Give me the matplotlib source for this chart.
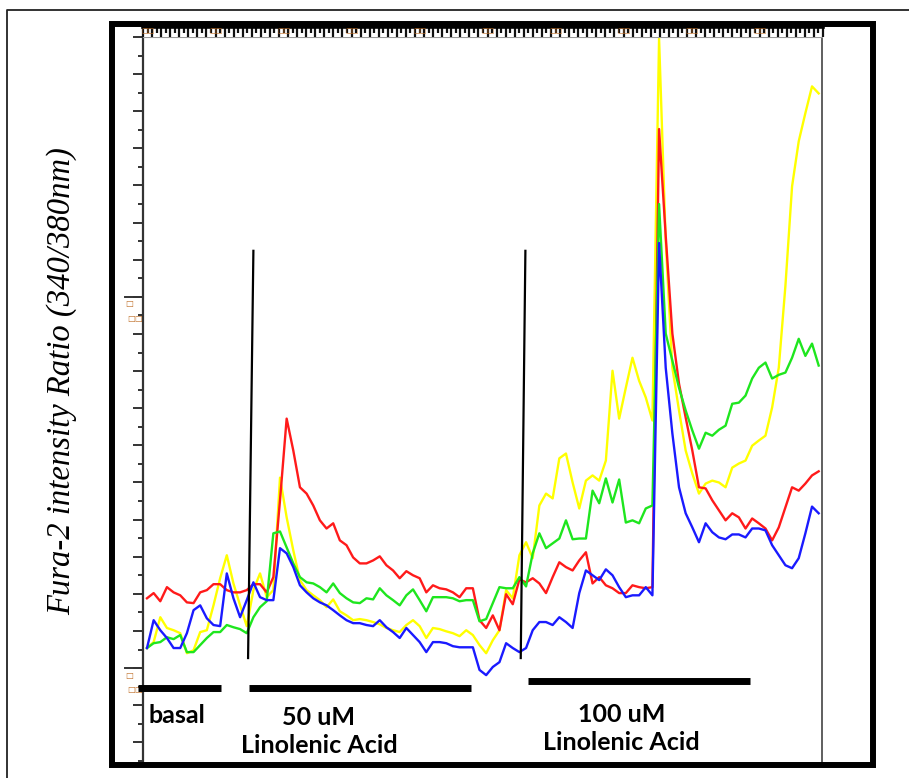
import numpy as np
import matplotlib.pyplot as plt
from matplotlib.patches import Rectangle
from matplotlib.lines import Line2D

# frame number of the imaging run
frame = np.arange(102)

# Fura-2 340/380 ratio, one list per cell
red = [1.188, 1.202, 1.180, 1.218, 1.204, 1.196, 1.177, 1.175, 1.204, 1.210,
       1.226, 1.226, 1.210, 1.204, 1.204, 1.210, 1.226, 1.226, 1.204, 1.245,
       1.452, 1.672, 1.586, 1.487, 1.470, 1.438, 1.398, 1.376, 1.390, 1.344,
       1.331, 1.298, 1.282, 1.282, 1.290, 1.301, 1.277, 1.263, 1.242, 1.261,
       1.250, 1.242, 1.204, 1.223, 1.215, 1.212, 1.204, 1.191, 1.215, 1.215,
       1.129, 1.108, 1.142, 1.102, 1.199, 1.172, 1.239, 1.231, 1.242, 1.228,
       1.202, 1.245, 1.285, 1.272, 1.263, 1.290, 1.312, 1.228, 1.245, 1.223,
       1.215, 1.202, 1.202, 1.223, 1.218, 1.215, 1.218, 2.452, 2.164, 1.901,
       1.766, 1.675, 1.586, 1.487, 1.484, 1.452, 1.425, 1.398, 1.417, 1.406,
       1.376, 1.403, 1.390, 1.376, 1.344, 1.379, 1.433, 1.487, 1.478, 1.497,
       1.519, 1.530]

green = [1.054, 1.067, 1.070, 1.083, 1.078, 1.089, 1.043, 1.043, 1.062, 1.081,
         1.097, 1.097, 1.116, 1.110, 1.105, 1.094, 1.137, 1.164, 1.180, 1.363,
         1.368, 1.325, 1.282, 1.245, 1.231, 1.228, 1.218, 1.204, 1.228, 1.202,
         1.188, 1.177, 1.175, 1.188, 1.185, 1.215, 1.196, 1.183, 1.169, 1.196,
         1.212, 1.183, 1.153, 1.191, 1.191, 1.191, 1.188, 1.180, 1.183, 1.183,
         1.126, 1.132, 1.175, 1.218, 1.215, 1.215, 1.245, 1.220, 1.309, 1.363,
         1.323, 1.336, 1.349, 1.398, 1.347, 1.349, 1.349, 1.478, 1.444, 1.511,
         1.446, 1.508, 1.392, 1.398, 1.390, 1.430, 1.438, 2.250, 1.901, 1.828,
         1.755, 1.694, 1.640, 1.591, 1.634, 1.626, 1.642, 1.653, 1.712, 1.715,
         1.734, 1.780, 1.809, 1.823, 1.780, 1.790, 1.796, 1.836, 1.887, 1.841,
         1.874, 1.815]

yellow = [1.054, 1.070, 1.137, 1.108, 1.102, 1.094, 1.040, 1.048, 1.097, 1.102,
          1.169, 1.242, 1.304, 1.228, 1.169, 1.113, 1.210, 1.255, 1.191, 1.210,
          1.513, 1.406, 1.317, 1.237, 1.210, 1.196, 1.183, 1.164, 1.185, 1.153,
          1.142, 1.129, 1.132, 1.129, 1.124, 1.118, 1.108, 1.102, 1.097, 1.116,
          1.129, 1.113, 1.081, 1.108, 1.105, 1.099, 1.094, 1.086, 1.102, 1.089,
          1.062, 1.040, 1.075, 1.102, 1.210, 1.188, 1.304, 1.339, 1.296, 1.438,
          1.470, 1.457, 1.565, 1.578, 1.500, 1.430, 1.505, 1.519, 1.505, 1.559,
          1.801, 1.672, 1.755, 1.836, 1.774, 1.729, 1.667, 2.696, 2.150, 1.809,
          1.694, 1.586, 1.524, 1.470, 1.497, 1.505, 1.500, 1.487, 1.540, 1.551,
          1.559, 1.599, 1.613, 1.626, 1.702, 1.809, 2.030, 2.298, 2.419, 2.495,
          2.567, 2.548]

blue = [1.054, 1.129, 1.102, 1.081, 1.054, 1.054, 1.094, 1.156, 1.169, 1.134,
        1.116, 1.113, 1.255, 1.188, 1.137, 1.183, 1.231, 1.191, 1.183, 1.183,
        1.323, 1.309, 1.272, 1.223, 1.204, 1.188, 1.177, 1.169, 1.156, 1.142,
        1.129, 1.121, 1.121, 1.116, 1.113, 1.129, 1.110, 1.097, 1.081, 1.108,
        1.089, 1.070, 1.043, 1.070, 1.070, 1.067, 1.059, 1.056, 1.056, 1.056,
        0.995, 0.981, 1.003, 1.016, 1.067, 1.054, 1.043, 1.054, 1.102, 1.124,
        1.124, 1.116, 1.137, 1.124, 1.108, 1.202, 1.263, 1.250, 1.237, 1.266,
        1.250, 1.218, 1.191, 1.196, 1.196, 1.218, 1.196, 2.145, 1.809, 1.632,
        1.487, 1.417, 1.379, 1.339, 1.390, 1.366, 1.352, 1.347, 1.360, 1.360,
        1.352, 1.376, 1.376, 1.371, 1.331, 1.304, 1.277, 1.269, 1.296, 1.363,
        1.435, 1.417]

# frames where linolenic acid was added (line drawn slightly slanted in the original)
add_50 = ([16.0, 15.2], [2.124, 1.027])
add_100 = ([56.9, 56.2], [2.124, 1.027])

W, H = 909, 778


def fx(px):
    return px / W


def fy(py):
    return 1 - py / H


fig = plt.figure(figsize=(W / 100, H / 100), dpi=100)

ax = fig.add_axes([fx(143), fy(762), fx(822) - fx(143), fy(37) - fy(762)])
ax.plot(frame, yellow, color='#ffff00', lw=1.7)
ax.plot(frame, red, color='#ff1a1a', lw=1.7)
ax.plot(frame, green, color='#1ee61e', lw=1.7)
ax.plot(frame, blue, color='#1a1aff', lw=1.7)

ax.plot(*add_50, color='black', lw=1.6)
ax.plot(*add_100, color='black', lw=1.6)

ax.set_xlim(-0.6, 101.5)
ax.set_ylim(0.747, 2.696)
ax.set_xticks([])
ax.set_yticks(np.arange(0.8, 2.71, 0.1))
ax.set_yticks(np.arange(0.75, 2.71, 0.1), minor=True)
ax.set_yticklabels([])
ax.tick_params(axis='y', which='major', length=7.2, width=1.4, color='#333333')
ax.tick_params(axis='y', which='minor', length=3.6, width=1.4, color='#333333')
ax.spines['bottom'].set_visible(False)
ax.spines['left'].set_linewidth(1.6)
ax.spines['left'].set_color('#333333')
ax.spines['right'].set_linewidth(1.2)
ax.spines['right'].set_color('#444444')
ax.spines['top'].set_linewidth(0.8)
ax.spines['top'].set_color('#999999')

# long ticks with the (unrendered) labels
trans = ax.get_yaxis_transform()
for v in [1.0, 2.0]:
    ax.plot([-0.0265, 0], [v, v], transform=trans, clip_on=False,
            color='#333333', lw=1.4)
    ax.annotate('\u25a1', xy=(0, v), xycoords=trans, xytext=(-10, -5),
                textcoords='offset points', ha='center', va='center',
                fontsize=6, color='#c0702a', annotation_clip=False)
    ax.annotate('\u25a1\u25a1', xy=(0, v), xycoords=trans, xytext=(-6, -15.5),
                textcoords='offset points', ha='center', va='center',
                fontsize=6, color='#c0702a', annotation_clip=False)

fig.text(fx(62), fy(381), 'Fura-2 intensity Ratio (340/380nm)', family='Liberation Serif',
         style='italic', fontsize=23.5, rotation=90, ha='center', va='center')

# ruler strip above the plot
bax = fig.add_axes([fx(143), fy(37), fx(823) - fx(143), fy(27) - fy(37)])
bax.set_xlim(0, 150)
bax.set_ylim(0, 1)
bax.set_yticks([])
bax.xaxis.set_ticks_position('top')
bax.set_xticks(np.arange(0, 151, 2))
bax.set_xticks(np.arange(1, 151, 2), minor=True)
bax.set_xticklabels([])
bax.tick_params(axis='x', which='major', direction='in', length=7, width=1.6, color='#111111')
bax.tick_params(axis='x', which='minor', direction='in', length=4.5, width=1.6, color='#111111')
for s in ['left', 'right', 'bottom']:
    bax.spines[s].set_visible(False)
bax.spines['top'].set_linewidth(2.6)
for p in np.arange(1, 150, 15):
    bax.text(p, 0.55, '\u25a1\u25a1', fontsize=5, color='#c0702a', ha='center', va='center')

# black bars for the treatment periods
bars = [(138, 221, 688), (249, 471, 688), (528, 750, 681)]
for x0, x1, y in bars:
    fig.add_artist(Line2D([fx(x0), fx(x1)], [fy(y), fy(y)], color='black',
                          lw=5, solid_capstyle='butt', transform=fig.transFigure))

lab = dict(family='Lato', weight='bold', fontsize=18)
fig.text(fx(148), fy(723), 'basal', ha='left', va='baseline', **lab)
fig.text(fx(319), fy(725), '50 uM', ha='center', va='baseline', **lab)
fig.text(fx(319), fy(753), 'Linolenic Acid', ha='center', va='baseline', **lab)
fig.text(fx(622), fy(722), '100 uM', ha='center', va='baseline', **lab)
fig.text(fx(621), fy(750), 'Linolenic Acid', ha='center', va='baseline', **lab)

# frames
fig.add_artist(Rectangle((fx(112), fy(765)), fx(873) - fx(112), fy(24) - fy(765),
                         transform=fig.transFigure, fill=False, lw=4.3, ec='black'))
fig.add_artist(Line2D([fx(7.5), fx(7.5), 1.0], [0.0, fy(10), fy(10)], color='#222222',
                      lw=1.3, transform=fig.transFigure))

fig.savefig('out.png', dpi=100)
